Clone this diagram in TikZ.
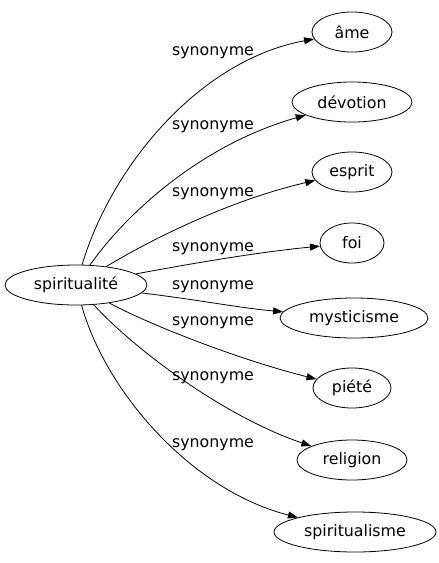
\documentclass[tikz,border=0pt]{standalone}
\usepackage{fontspec}
\setmainfont{DejaVu Sans}
\usetikzlibrary{shapes.geometric,arrows.meta}
\begin{document}
\begin{tikzpicture}[x=1pt,y=-1pt,
  ell/.style={draw,ellipse,inner sep=0pt,line width=0.8pt,font=\fontsize{15.8}{19}\selectfont},
  lbl/.style={inner sep=0pt,font=\fontsize{15.8}{19}\selectfont},
  edge/.style={draw,line width=0.8pt,-{Triangle[length=10pt,width=7pt]}}]
\useasboundingbox (0,0) rectangle (439,563);
\node[ell,minimum width=142pt,minimum height=40pt] (s) at (76,285) {spiritualité};
\node[ell,minimum width=80pt,minimum height=40pt] (ame) at (352,32) {âme};
\node[ell,minimum width=120pt,minimum height=40pt] (dev) at (352,102) {dévotion};
\node[ell,minimum width=80pt,minimum height=40pt] (esp) at (352,172) {esprit};
\node[ell,minimum width=64pt,minimum height=40pt] (foi) at (352,243) {foi};
\node[ell,minimum width=148pt,minimum height=40pt] (mys) at (354,318) {mysticisme};
\node[ell,minimum width=78pt,minimum height=40pt] (pie) at (352,388) {piété};
\node[ell,minimum width=110pt,minimum height=40pt] (rel) at (352,460) {religion};
\node[ell,minimum width=162pt,minimum height=40pt] (spm) at (355,532) {spiritualisme};
\node[lbl] (l1) at (213,53) {synonyme};
\node[lbl] (l2) at (213,127) {synonyme};
\node[lbl] (l3) at (213,194) {synonyme};
\node[lbl] (l4) at (213,249) {synonyme};
\node[lbl] (l5) at (213,287) {synonyme};
\node[lbl] (l6) at (213,323) {synonyme};
\node[lbl] (l7) at (213,378) {synonyme};
\node[lbl] (l8) at (213,445) {synonyme};
\path[edge] (s) .. controls (112,165) and (200,60) .. (ame);
\path[edge] (s) .. controls (125,215) and (200,145) .. (dev);
\path[edge] (s) .. controls (150,240) and (230,200) .. (esp);
\path[edge] (s) .. controls (200,262) and (260,252) .. (foi);
\path[edge] (s) .. controls (200,300) and (240,308) .. (mys);
\path[edge] (s) .. controls (150,325) and (240,360) .. (pie);
\path[edge] (s) .. controls (130,345) and (220,415) .. (rel);
\path[edge] (s) .. controls (105,390) and (190,490) .. (spm);
\end{tikzpicture}
\end{document}
